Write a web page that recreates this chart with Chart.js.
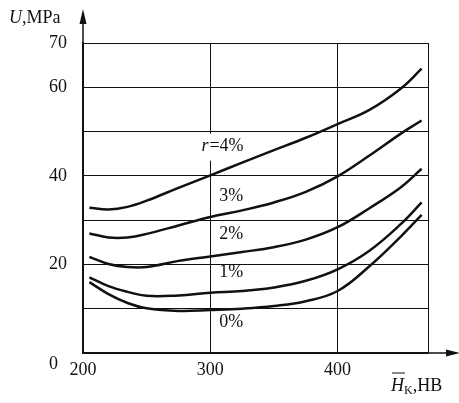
<!DOCTYPE html>
<html>
<head>
<meta charset="utf-8">
<script src="https://cdn.jsdelivr.net/npm/chart.js@4/dist/chart.umd.min.js"></script>
<style>
  html, body { margin: 0; padding: 0; background: #fff; }
  #wrap { width: 459px; height: 403px; }
</style>
</head>
<body>
<div id="wrap"><canvas id="uChart" width="459" height="403"></canvas></div>
<script>
// hardness points (HB)
const hardness = [205, 220, 235, 250, 275, 300, 325, 350, 375, 400, 425, 450, 466];
// U, MPa for each r
const r4 = [32.8, 32.4, 33.0, 34.4, 37.3, 40.1, 43.0, 45.8, 48.6, 51.7, 54.9, 59.8, 64.2];
const r3 = [27.0, 26.1, 26.1, 26.9, 28.8, 30.7, 32.2, 34.0, 36.4, 39.9, 44.6, 49.6, 52.5];
const r2 = [21.7, 20.1, 19.4, 19.4, 20.8, 21.8, 22.8, 23.9, 25.6, 28.4, 32.7, 37.5, 41.6];
const r1 = [17.1, 15.1, 13.8, 12.9, 13.0, 13.6, 14.0, 14.8, 16.3, 18.9, 23.1, 29.2, 34.0];
const r0 = [16.0, 13.3, 11.3, 10.1, 9.5, 9.7, 10.0, 10.6, 11.7, 14.0, 19.6, 26.4, 31.2];
const seriesNames = ['r=4%', '3%', '2%', '1%', '0%'];
const xTickLabels = [200, 300, 400];
const xGridLines = [200, 300, 400, 471];
const yTickLabels = [0, 20, 40, 60, 70];

const serif = '"Liberation Serif", "DejaVu Serif", serif';
const ink = '#111';
const fs = 18;

function toPoints(ys) {
    return ys.map((y, i) => ({ x: hardness[i], y: y }));
}

// where the r labels sit (data coords of their left/middle)
const labelSpots = [
    { x: 293, y: 46.6 },
    { x: 307, y: 35.4 },
    { x: 307, y: 26.9 },
    { x: 307, y: 18.2 },
    { x: 307, y: 6.9 }
];

const decorations = {
    id: 'decorations',
    beforeDatasetsDraw(chart) {
        const ctx = chart.ctx;
        const xs = chart.scales.x, ys = chart.scales.y;
        // white box behind r=4% hides the grid line
        const p = labelSpots[0];
        const lx = xs.getPixelForValue(p.x), ly = ys.getPixelForValue(p.y);
        ctx.save();
        ctx.fillStyle = '#fff';
        ctx.fillRect(lx - 2, ly - 13, 50, 27);
        ctx.restore();
    },
    afterDatasetsDraw(chart) {
        const ctx = chart.ctx;
        const xs = chart.scales.x, ys = chart.scales.y;
        const area = chart.chartArea;
        ctx.save();
        ctx.fillStyle = ink;
        ctx.strokeStyle = ink;
        ctx.textBaseline = 'middle';
        ctx.textAlign = 'left';

        seriesNames.forEach((name, i) => {
            const px = xs.getPixelForValue(labelSpots[i].x);
            const py = ys.getPixelForValue(labelSpots[i].y);
            if (name.startsWith('r')) {
                ctx.font = 'italic ' + fs + 'px ' + serif;
                ctx.fillText('r', px, py);
                const w = ctx.measureText('r').width;
                ctx.font = fs + 'px ' + serif;
                ctx.fillText(name.slice(1), px + w + 1, py);
            } else {
                ctx.font = fs + 'px ' + serif;
                ctx.fillText(name, px, py);
            }
        });

        // axis arrows
        const x0 = area.left, y0 = area.bottom;
        ctx.lineWidth = 1.5;
        ctx.beginPath();
        ctx.moveTo(x0, area.top);
        ctx.lineTo(x0, 20);
        ctx.moveTo(area.right, y0);
        ctx.lineTo(450, y0);
        ctx.stroke();
        ctx.beginPath();
        ctx.moveTo(x0, 9);
        ctx.lineTo(x0 - 3.5, 24);
        ctx.lineTo(x0 + 3.5, 24);
        ctx.closePath();
        ctx.fill();
        ctx.beginPath();
        ctx.moveTo(460, y0);
        ctx.lineTo(446, y0 - 3.5);
        ctx.lineTo(446, y0 + 3.5);
        ctx.closePath();
        ctx.fill();

        // y title: U,MPa
        ctx.font = 'italic ' + fs + 'px ' + serif;
        ctx.fillText('U', 9, 18);
        let w = ctx.measureText('U').width;
        ctx.font = fs + 'px ' + serif;
        ctx.fillText(',MPa', 9 + w, 18);

        // x title: H̄K,HB
        const tx = 391, ty = 386;
        ctx.font = 'italic ' + fs + 'px ' + serif;
        ctx.fillText('H', tx, ty);
        w = ctx.measureText('H').width;
        ctx.lineWidth = 1;
        ctx.beginPath();
        ctx.moveTo(tx + 1, ty - 13);
        ctx.lineTo(tx + w + 1, ty - 13);
        ctx.stroke();
        ctx.font = '12px ' + serif;
        ctx.fillText('K', tx + w, ty + 5);
        const wk = ctx.measureText('K').width;
        ctx.font = fs + 'px ' + serif;
        ctx.fillText(',HB', tx + w + wk, ty);
        ctx.restore();
    }
};

const datasets = [r4, r3, r2, r1, r0].map((ys, i) => ({
    label: seriesNames[i],
    data: toPoints(ys),
    borderColor: ink,
    borderWidth: 2.5,
    pointRadius: 0,
    tension: 0.4,
    fill: false
}));

const uChart = new Chart(document.getElementById('uChart'), {
    type: 'line',
    data: { datasets: datasets },
    options: {
        responsive: false,
        animation: false,
        layout: { padding: { left: 0, top: 43, right: 31, bottom: 0 } },
        plugins: { legend: { display: false }, tooltip: { enabled: false } },
        scales: {
            x: {
                type: 'linear',
                min: 200,
                max: 471,
                afterBuildTicks: (scale) => { scale.ticks = xGridLines.map(v => ({ value: v })); },
                afterFit: (scale) => { scale.height = 50; },
                grid: { color: ink, lineWidth: 1, drawTicks: false },
                border: { color: ink, width: 1.5 },
                ticks: {
                    padding: 6,
                    color: ink,
                    font: { family: serif, size: fs },
                    maxRotation: 0,
                    autoSkip: false,
                    callback: (v) => xTickLabels.includes(v) ? String(v) : ''
                }
            },
            y: {
                min: 0,
                max: 70,
                afterFit: (scale) => { scale.width = 83; },
                grid: { color: ink, lineWidth: 1, drawTicks: false },
                border: { color: ink, width: 1.5 },
                ticks: {
                    stepSize: 10,
                    padding: 16,
                    color: ink,
                    font: { family: serif, size: fs },
                    autoSkip: false,
                    callback: (v) => {
                        if (!yTickLabels.includes(v)) return '';
                        return v === 0 ? ['', '0  '] : String(v);
                    }
                }
            }
        }
    },
    plugins: [decorations]
});
</script>
</body>
</html>
